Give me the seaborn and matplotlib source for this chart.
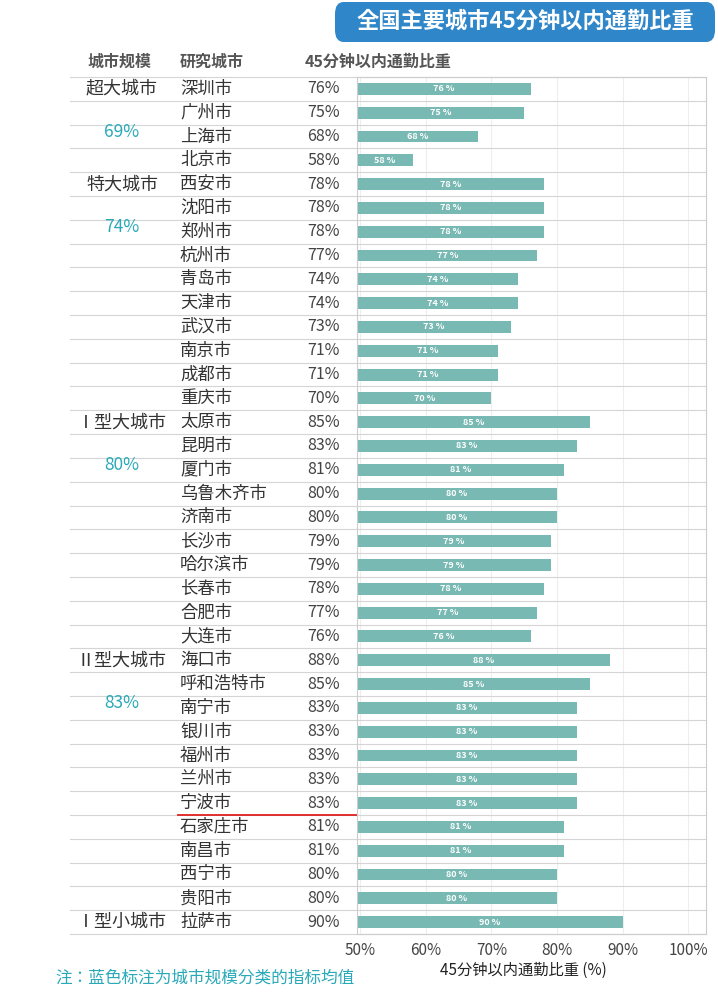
import matplotlib
matplotlib.use("Agg")
import matplotlib.pyplot as plt
from matplotlib.patches import FancyBboxPatch
from matplotlib.lines import Line2D
from matplotlib import font_manager
import seaborn as sns
import pandas as pd

names = {f.name for f in font_manager.fontManager.ttflist}
cjk = [n for n in ["Noto Sans CJK SC", "Noto Sans CJK JP", "Noto Sans CJK TC", "Noto Sans CJK KR"] if n in names]
plt.rcParams["font.family"] = cjk + ["DejaVu Sans"]

groups = ["超大城市", "特大城市", "Ⅰ型大城市", "Ⅱ型大城市", "Ⅰ型小城市"]
group_avgs = ["69%", "74%", "80%", "83%", ""]
group_cities = [
    ["深圳市", "广州市", "上海市", "北京市"],
    ["西安市", "沈阳市", "郑州市", "杭州市", "青岛市", "天津市", "武汉市", "南京市", "成都市", "重庆市"],
    ["太原市", "昆明市", "厦门市", "乌鲁木齐市", "济南市", "长沙市", "哈尔滨市", "长春市", "合肥市", "大连市"],
    ["海口市", "呼和浩特市", "南宁市", "银川市", "福州市", "兰州市", "宁波市", "石家庄市", "南昌市", "西宁市", "贵阳市"],
    ["拉萨市"],
]
group_values = [
    [76, 75, 68, 58],
    [78, 78, 78, 77, 74, 74, 73, 71, 71, 70],
    [85, 83, 81, 80, 80, 79, 79, 78, 77, 76],
    [88, 85, 83, 83, 83, 83, 83, 81, 81, 80, 80],
    [90],
]
xticks = [50, 60, 70, 80, 90, 100]

cities = [c for g in group_cities for c in g]
values = [v for g in group_values for v in g]
df = pd.DataFrame({"city": cities, "value": values})

fig = plt.figure(figsize=(7.18, 10), dpi=100)
ax = fig.add_axes([357/718, 0.066, (706-357)/718, 0.857])
sns.barplot(data=df, y="city", x="value", order=cities, color="#78b9b3",
            width=0.5, ax=ax, orient="h", saturation=1)
ax.set_xlim(49.5, 102.7)
ax.set_ylim(len(cities) - 0.5, -0.5)
ax.set_xticks(xticks)
ax.set_xticklabels([f"{t}%" for t in xticks], fontsize=11, color="#444")
ax.tick_params(axis="x", length=0, pad=6)
ax.set_yticks([])
ax.set_ylabel("")
ax.set_xlabel("")
for s in ax.spines.values():
    s.set_color("#cccccc"); s.set_linewidth(0.8)
ax.grid(axis="x", color="#eeeeee", linewidth=0.8)
ax.set_axisbelow(True)

tr = ax.get_yaxis_transform()
def fx(px):
    return (px - 357) / (706 - 357)

for i, (c, v) in enumerate(zip(cities, values)):
    ax.text((49.5 + v) / 2, i, f"{v} %", ha="center", va="center", color="white",
            fontsize=6.5, fontweight="bold")
    ax.text(fx(180), i, c, transform=tr, ha="left", va="center", fontsize=12.5,
            color="#333", clip_on=False)
    ax.text(fx(307), i, f"{v}%", transform=tr, ha="left", va="center", fontsize=11.5,
            color="#444", clip_on=False)
    ax.add_line(Line2D([fx(70), 1], [i + 0.5, i + 0.5], transform=tr, color="#d5d5d5",
                       linewidth=0.8, clip_on=False))
ax.add_line(Line2D([fx(70), 1], [-0.5, -0.5], transform=tr, color="#d5d5d5",
                   linewidth=0.8, clip_on=False))

start = 0
for g, a, cs in zip(groups, group_avgs, group_cities):
    ax.text(fx(122), start, g, transform=tr, ha="center", va="center", fontsize=13,
            color="#333", clip_on=False)
    if a:
        ax.text(fx(122), start + 1.8, a, transform=tr, ha="center", va="center",
                fontsize=12.5, color="#2aa9b8", clip_on=False)
    start += len(cs)

idx = cities.index("宁波市")
ax.add_line(Line2D([fx(178), fx(357)], [idx + 0.5, idx + 0.5], transform=tr,
                   color="#e02020", linewidth=1.3, clip_on=False))

fig.text(88/718, 1 - 62/1000, "城市规模", fontsize=11.5, fontweight="bold", color="#555", va="center")
fig.text(180/718, 1 - 62/1000, "研究城市", fontsize=11.5, fontweight="bold", color="#555", va="center")
fig.text(305/718, 1 - 62/1000, "45分钟以内通勤比重", fontsize=11.5, fontweight="bold", color="#555", va="center")

box = FancyBboxPatch((335/718, 1 - 42/1000), 380/718, 40/1000,
                     boxstyle="round,pad=0,rounding_size=0.012", transform=fig.transFigure,
                     facecolor="#2f86c8", edgecolor="none")
fig.patches.append(box)
fig.text(525/718, 1 - 21/1000, "全国主要城市45分钟以内通勤比重", ha="center", va="center",
         fontsize=16, fontweight="bold", color="white")

fig.text(440/718, 1 - 970/1000, "45分钟以内通勤比重 (%)", fontsize=11, color="#222", va="center")
fig.text(55/718, 1 - 978/1000, "注：蓝色标注为城市规模分类的指标均值", fontsize=12,
         color="#2aa9b8", va="center")

fig.savefig("out.png", dpi=100, facecolor="white")
